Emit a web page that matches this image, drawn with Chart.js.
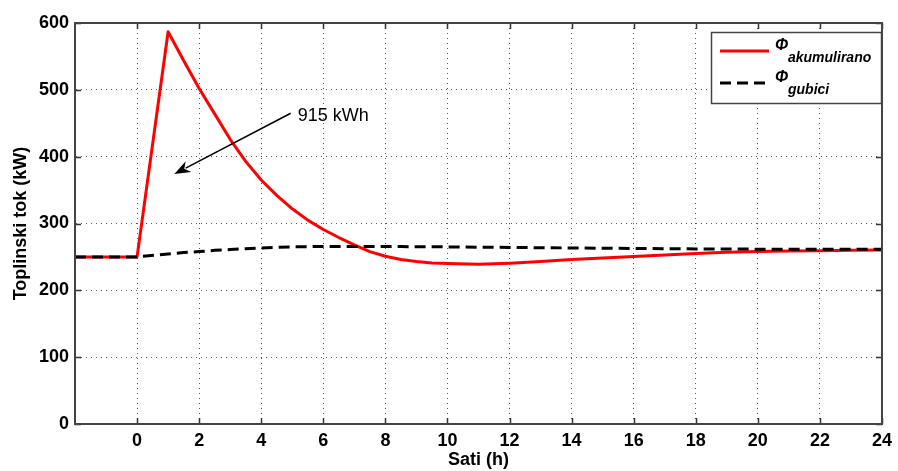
<!DOCTYPE html>
<html>
<head>
<meta charset="utf-8">
<script src="https://cdn.jsdelivr.net/npm/chart.js@4"></script>
<style>
html,body{margin:0;padding:0;background:#fff;}
#wrap{width:898px;height:471px;}
</style>
</head>
<body>
<div id="wrap"><canvas id="c" width="898" height="471"></canvas></div>
<script>
// ---- data ----
const hours = [-2,0,1,1.5,2,2.5,3,3.5,4,4.5,5,5.5,6,6.5,7,7.5,8,8.5,9,9.5,10,11,12,13,14,15,16,17,18,19,20,21,22,23,24];
const phiAkumulirano = [250,250,587,544,502,464,426,393,365,342,322,305,291,279,268,258,251,246,243,241,240,239,240.5,243,246,248.5,250.5,253,255,256.8,258,258.8,259.4,260,260.5];
const phiGubici = [250,250,254.5,256.5,258,259.8,261,262.3,263.5,264.3,265,265.4,265.6,265.7,265.7,265.6,265.5,265.4,265.3,265.2,265,264.6,264.2,263.8,263.4,263,262.6,262.3,262,261.8,261.6,261.5,261.5,261.5,261.5];
const seriesSubscripts = ['akumulirano','gubici'];
const legendSymbol = '\u03A6';
const xTicks = [0,2,4,6,8,10,12,14,16,18,20,22,24];
const yTicks = [0,100,200,300,400,500,600];
const annotationText = '915 kWh';
const annotationFrom = {x:4.95, y:465};
const annotationTo = {x:1.2, y:374};

const FONT = '"Liberation Sans", Arial, sans-serif';

const boxPlugin = {
  id:'boxPlugin',
  afterDraw(chart){
    const {ctx, chartArea:a, scales:{x,y}} = chart;
    ctx.save();
    // inward ticks
    ctx.strokeStyle = '#333';
    ctx.lineWidth = 1.5;
    ctx.beginPath();
    xTicks.forEach(v=>{
      const px = Math.round(x.getPixelForValue(v))+0.5;
      ctx.moveTo(px,a.bottom); ctx.lineTo(px,a.bottom-6);
      ctx.moveTo(px,a.top); ctx.lineTo(px,a.top+6);
    });
    yTicks.forEach(v=>{
      const py = Math.round(y.getPixelForValue(v))+0.5;
      ctx.moveTo(a.left,py); ctx.lineTo(a.left+6,py);
      ctx.moveTo(a.right,py); ctx.lineTo(a.right-6,py);
    });
    ctx.stroke();
    // frame
    ctx.lineWidth = 2;
    ctx.strokeStyle = '#444';
    ctx.strokeRect(a.left, a.top, a.right-a.left, a.bottom-a.top);

    // annotation arrow
    const x1 = x.getPixelForValue(annotationFrom.x), y1 = y.getPixelForValue(annotationFrom.y);
    const x2 = x.getPixelForValue(annotationTo.x), y2 = y.getPixelForValue(annotationTo.y);
    const ang = Math.atan2(y2-y1, x2-x1);
    const hl = 16, hw = 6;
    ctx.strokeStyle = '#000'; ctx.fillStyle = '#000'; ctx.lineWidth = 1.5;
    ctx.beginPath();
    ctx.moveTo(x1,y1);
    ctx.lineTo(x2 - Math.cos(ang)*hl*0.8, y2 - Math.sin(ang)*hl*0.8);
    ctx.stroke();
    ctx.beginPath();
    ctx.moveTo(x2,y2);
    ctx.lineTo(x2 - Math.cos(ang)*hl - Math.sin(ang)*hw, y2 - Math.sin(ang)*hl + Math.cos(ang)*hw);
    ctx.lineTo(x2 - Math.cos(ang)*hl*0.7, y2 - Math.sin(ang)*hl*0.7);
    ctx.lineTo(x2 - Math.cos(ang)*hl + Math.sin(ang)*hw, y2 - Math.sin(ang)*hl - Math.cos(ang)*hw);
    ctx.closePath();
    ctx.fill();
    ctx.font = '18px ' + FONT;
    ctx.textBaseline = 'middle';
    ctx.textAlign = 'left';
    ctx.fillText(annotationText, x1+7, y1+3);

    // legend
    const lx = 711, ly = 32, lw = 170, lh = 71;
    ctx.fillStyle = '#fff';
    ctx.fillRect(lx,ly,lw,lh);
    ctx.strokeStyle = '#444'; ctx.lineWidth = 1.5;
    ctx.strokeRect(lx+0.5,ly+0.5,lw,lh);
    chart.data.datasets.forEach((ds,i)=>{
      const yy = ly + 19 + i*32;
      ctx.strokeStyle = ds.borderColor;
      ctx.lineWidth = 3;
      ctx.setLineDash(ds.borderDash || []);
      ctx.beginPath();
      ctx.moveTo(lx+9, yy); ctx.lineTo(lx+58, yy);
      ctx.stroke();
      ctx.setLineDash([]);
      ctx.fillStyle = '#000';
      ctx.textBaseline = 'alphabetic';
      ctx.font = 'italic bold 16px ' + FONT;
      ctx.fillText(legendSymbol, lx+64, yy-1);
      ctx.font = 'italic bold 14px ' + FONT;
      ctx.fillText(seriesSubscripts[i], lx+77, yy+11);
    });
    ctx.restore();
  }
};

new Chart(document.getElementById('c'), {
  type:'line',
  data:{
    datasets:[
      {
        label: legendSymbol + seriesSubscripts[0],
        data: hours.map((h,i)=>({x:h, y:phiAkumulirano[i]})),
        borderColor:'#ff0000',
        borderWidth:3,
        pointRadius:0,
        tension:0,
        borderJoinStyle:'round',
        order:2
      },
      {
        label: legendSymbol + seriesSubscripts[1],
        data: hours.map((h,i)=>({x:h, y:phiGubici[i]})),
        borderColor:'#000000',
        borderWidth:3,
        borderDash:[11,6],
        pointRadius:0,
        tension:0,
        order:1
      }
    ]
  },
  options:{
    responsive:false,
    animation:false,
    events:[],
    layout:{padding:{top:23, right:11, left:0, bottom:0}},
    plugins:{legend:{display:false}, tooltip:{enabled:false}},
    scales:{
      x:{
        type:'linear',
        min:-2, max:24,
        afterBuildTicks: s => { s.ticks = xTicks.map(v=>({value:v})); },
        afterFit: s => { s.height = 47; },
        ticks:{
          color:'#000',
          font:{family:FONT, size:18, weight:'bold'},
          padding:6,
          maxRotation:0,
          autoSkip:false,
          callback: v => String(v)
        },
        grid:{ color:'#555', lineWidth:1, drawTicks:false },
        border:{display:true, color:'#444', width:2, dash:[1,4]},
        title:{display:true, text:'Sati (h)', color:'#000',
          font:{family:FONT, size:18, weight:'bold'}, padding:{top:0,bottom:0}}
      },
      y:{
        min:0, max:600,
        afterBuildTicks: s => { s.ticks = yTicks.map(v=>({value:v})); },
        afterFit: s => { s.width = 75; },
        ticks:{
          color:'#000',
          font:{family:FONT, size:18, weight:'bold'},
          padding:6,
          callback: v => String(v)
        },
        grid:{ color:'#555', lineWidth:1, drawTicks:false },
        border:{display:true, color:'#444', width:2, dash:[1,4]},
        title:{display:true, text:'Toplinski tok (kW)', color:'#000',
          font:{family:FONT, size:18, weight:'bold'}, padding:{top:10,bottom:0}}
      }
    }
  },
  plugins:[boxPlugin]
});
</script>
</body>
</html>
